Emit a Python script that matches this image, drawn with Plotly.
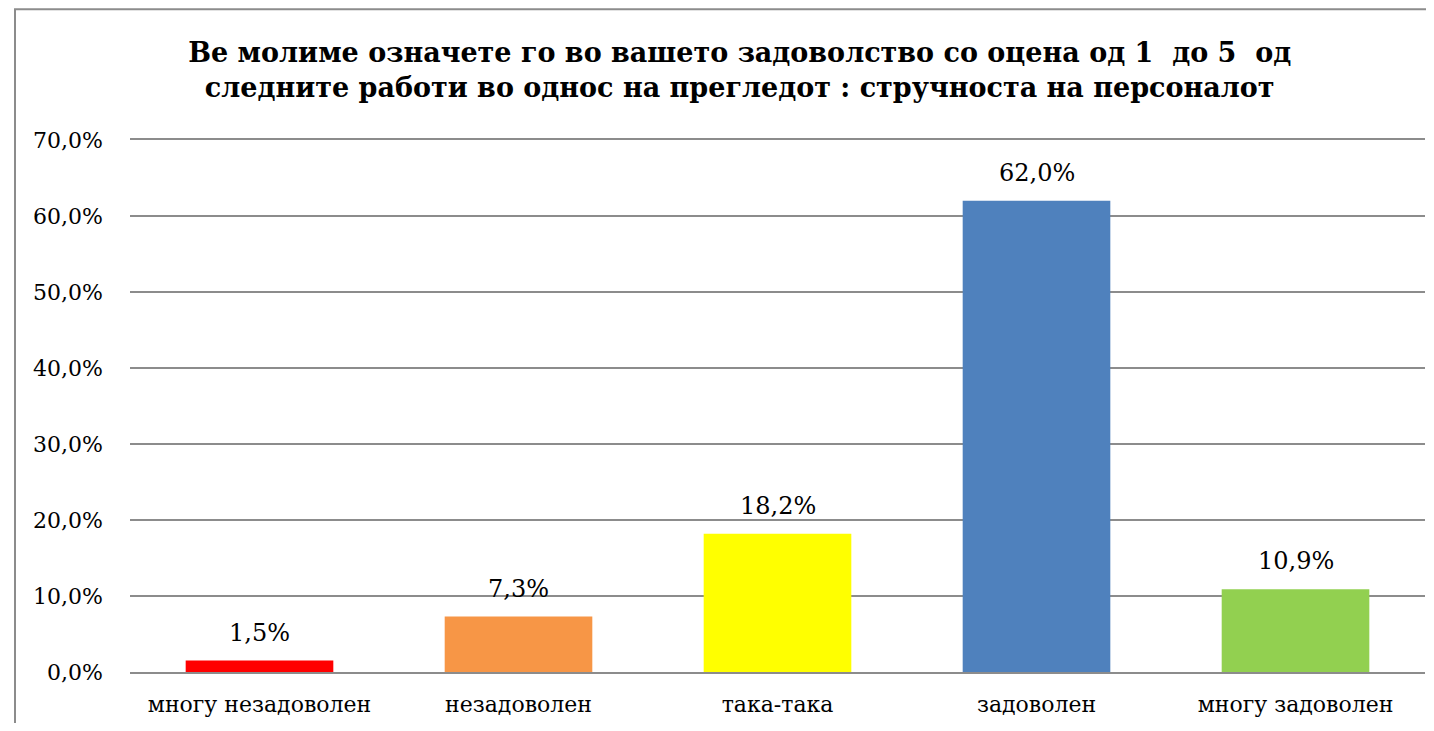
import plotly.graph_objects as go

categories = ["многу незадоволен", "незадоволен", "така-така", "задоволен", "многу задоволен"]
values = [1.5, 7.3, 18.2, 62.0, 10.9]
colors = ["#FF0000", "#F79646", "#FFFF00", "#4F81BD", "#92D050"]
tick_vals = [0, 10, 20, 30, 40, 50, 60, 70]
tick_text = ["0,0%", "10,0%", "20,0%", "30,0%", "40,0%", "50,0%", "60,0%", "70,0%"]

title = ("Ве молиме означете го во вашето задоволство со оцена од 1  до 5  од<br>"
         "следните работи во однос на прегледот : стручноста на персоналот")

font = "DejaVu Serif"

fig = go.Figure()
fig.add_trace(go.Bar(
    x=categories, y=values,
    marker=dict(color=colors, line=dict(width=0)),
    hoverinfo="x+y",
))

# data labels above bars
for c, v in zip(categories, values):
    fig.add_annotation(x=c, y=v, text=f"{v:.1f}%".replace(".", ","),
                       showarrow=False, yanchor="bottom", yshift=12,
                       font=dict(family=font, size=24, color="#000000"))

fig.update_layout(
    width=1418, height=715,
    margin=dict(l=122, r=1, t=132, b=51),
    paper_bgcolor="white", plot_bgcolor="white",
    bargap=0.43,
    showlegend=False,
    title=dict(text="<b>" + title + "</b>", x=0.516, xanchor="center",
               y=0.925, yanchor="middle",
               font=dict(family=font, size=27, color="#000000"),
               ),
    font=dict(family=font, size=22, color="#000000"),
)
fig.update_yaxes(range=[0, 70], tickvals=tick_vals, ticktext=tick_text,
                 showgrid=True, gridcolor="#8c8c8c", gridwidth=1.5,
                 zeroline=False, showline=False, ticks="", ticklabelstandoff=26,
                 tickfont=dict(family=font, size=22))
fig.update_xaxes(showline=True, mirror=True, linecolor="#8c8c8c", linewidth=1.5, ticks="",
                 ticklabelstandoff=12, tickfont=dict(family=font, size=22))

# chart frame (left and top edges visible)
fig.add_shape(type="rect", xref="paper", yref="paper",
              x0=-0.0888, x1=1.5, y0=-0.6, y1=1.246,
              line=dict(color="#8c8c8c", width=2), layer="below")

fig.write_html("out.html")
